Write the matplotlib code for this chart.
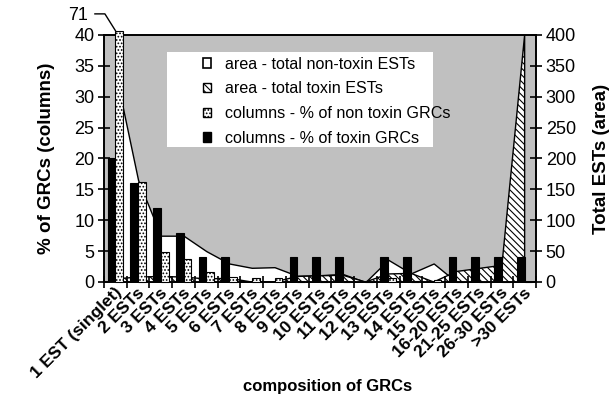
import numpy as np
import matplotlib
matplotlib.use('Agg')
import matplotlib.pyplot as plt
import matplotlib.transforms as mtransforms
from matplotlib.patches import Patch, Rectangle

plt.rcParams['font.family'] = ['Liberation Sans', 'DejaVu Sans']
plt.rcParams['hatch.linewidth'] = 0.8

categories = ["1 EST (singlet)", "2 ESTs", "3 ESTs", "4 ESTs", "5 ESTs", "6 ESTs",
              "7 ESTs", "8 ESTs", "9 ESTs", "10 ESTs", "11 ESTs", "12 ESTs",
              "13 ESTs", "14 ESTs", "15 ESTs", "16-20 ESTs", "21-25 ESTs",
              "26-30 ESTs", ">30 ESTs"]
pct_toxin_grcs = [20, 16, 12, 8, 4, 4, 0, 0, 4, 4, 4, 0, 4, 4, 0, 4, 4, 4, 4]
pct_nontoxin_grcs = [71, 16.2, 4.9, 3.7, 1.7, 0.8, 0.6, 0.6, 0.2, 0.2, 0.2, 0,
                     0.6, 0.2, 0.4, 0, 0, 0, 0]
total_nontoxin_ests = [340, 165, 75, 75, 50, 30, 23, 24, 10, 11, 13, 0,
                       36, 14, 30, 0, 0, 0, 0]
total_toxin_ests = [5, 8, 9, 8, 5, 6, 0, 0, 9, 10, 11, 0, 13, 14, 0,
                    17, 22, 27, 400]
left_ticks = [0, 5, 10, 15, 20, 25, 30, 35, 40]
right_ticks = [0, 50, 100, 150, 200, 250, 300, 350, 400]

GRAY = '#c0c0c0'
n = len(categories)
x = np.arange(n)

fig = plt.figure(figsize=(6.13, 4.0), dpi=100)
ax = fig.add_axes([104/613, 1-282/400, 432/613, 247/400])
ax2 = ax.twinx()
ax.set_zorder(2)
ax.patch.set_visible(False)
ax2.set_zorder(1)
ax2.patch.set_visible(True)
ax2.patch.set_facecolor(GRAY)

# areas (right axis)
ax2.fill_between(x, 0, total_nontoxin_ests, facecolor='white', edgecolor='black',
                 linewidth=1.0, zorder=2)
ax2.fill_between(x, 0, total_toxin_ests, facecolor='white', edgecolor='black',
                 hatch='\\' * 5, linewidth=1.0, zorder=3)
ax2.set_ylim(right_ticks[0], right_ticks[-1])
ax2.set_yticks(right_ticks)
ax2.tick_params(axis='y', direction='inout', length=8, width=1.2, labelsize=13, pad=3)

# columns (left axis)
ylim_top = left_ticks[-1]
break_top = ylim_top * 1.018
w = 0.34
ax.bar(x - w/2, pct_toxin_grcs, width=w, color='black', edgecolor='black',
       linewidth=0.8, zorder=3)
shown = np.minimum(pct_nontoxin_grcs, break_top)
ax.bar(x + w/2, shown, width=w, facecolor='white', edgecolor='black',
       hatch='.....', linewidth=0.8, zorder=3, clip_on=False)
for i, v in enumerate(pct_nontoxin_grcs):
    if v > ylim_top:
        bx, by = x[i], shown[i]
        ax.plot([bx - 0.9, bx - 0.46, bx], [by + 2.7, by + 2.7, by],
                color='black', lw=1.0, clip_on=False, zorder=4)
        ax.text(bx - 1.22, by + 2.4, f'{v:g}', ha='right', va='center',
                fontsize=13)

ax.set_xlim(-0.5, n - 0.5)
ax.set_ylim(0, ylim_top)
ax.set_yticks(left_ticks)
ax.tick_params(axis='y', direction='inout', length=8, width=1.2, labelsize=13, pad=3)
ax.set_xticks(np.arange(n + 1) - 0.5)
ax.set_xticklabels([])
ax.tick_params(axis='x', which='major', direction='inout', length=8, width=1.2)
ax.set_xticks(x, minor=True)
ax.set_xticklabels(categories, minor=True, rotation=45, ha='right', va='center',
                   rotation_mode='anchor', fontweight='bold', fontsize=12.5)
ax.tick_params(axis='x', which='minor', length=0, pad=6)
shift = mtransforms.ScaledTranslation(4/100, 0, fig.dpi_scale_trans)
for lbl in ax.get_xticklabels(minor=True):
    lbl.set_transform(lbl.get_transform() + shift)

for a in (ax, ax2):
    for s in a.spines.values():
        s.set_linewidth(1.2)
        s.set_color('black')

ax.set_ylabel('% of GRCs (columns)', fontsize=13.5, fontweight='bold')
ax.yaxis.set_label_coords(-0.113, 0.5)
ax2.set_ylabel('Total ESTs (area)', fontsize=13.5, fontweight='bold')
ax2.yaxis.set_label_coords(1.132, 0.5)
fig.text(328/613, 1 - 387/400, 'composition of GRCs', ha='center', va='center',
         fontsize=12, fontweight='bold')

# legend
ax.add_patch(Rectangle((0.146, 0.547), 0.616, 0.384, transform=ax.transAxes,
                       facecolor='white', edgecolor='none', zorder=5))
handles = [Patch(facecolor='white', edgecolor='black', lw=1.2),
           Patch(facecolor='white', edgecolor='black', hatch='\\' * 5, lw=1.0),
           Patch(facecolor='white', edgecolor='black', hatch='.....', lw=1.0),
           Patch(facecolor='black', edgecolor='black', lw=1.0)]
labels = ['area - total non-toxin ESTs', 'area - total toxin ESTs',
          'columns - % of non toxin GRCs', 'columns - % of toxin GRCs']
leg = ax.legend(handles, labels, loc='upper left', bbox_to_anchor=(0.229, 0.912),
                frameon=False, fontsize=11.6, handlelength=0.5, handleheight=0.5,
                handletextpad=0.85, labelspacing=0.6, borderpad=0, borderaxespad=0)
leg.set_zorder(6)

fig.savefig('out.png', dpi=100)
